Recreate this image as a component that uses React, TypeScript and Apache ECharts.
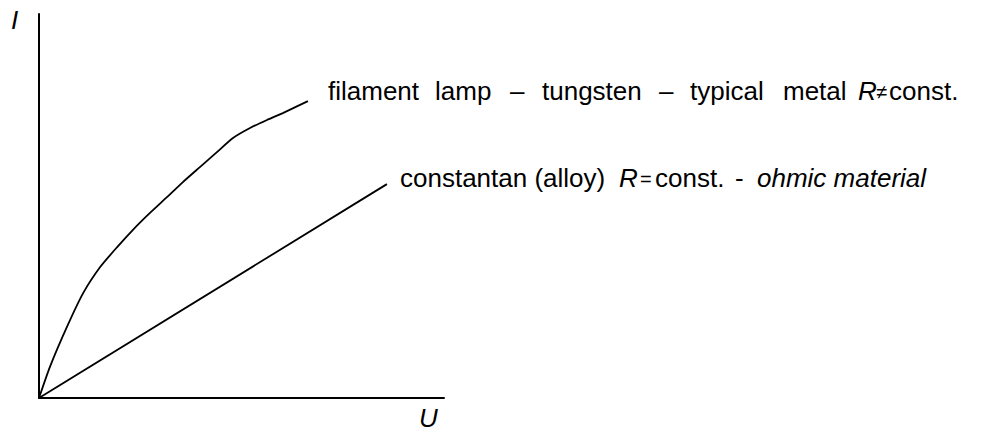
import React, { useEffect, useRef } from "react";
import * as echarts from "echarts";

// Voltage U (x) and current I (y), arbitrary units
const filamentU = [0, 0.27, 0.69, 1.09, 1.51, 1.93, 2.32, 2.74, 3.16, 3.56, 3.98, 4.4, 4.79, 5.21, 5.63, 6.02, 6.64];
const filamentI = [0, 0.81, 1.85, 2.73, 3.41, 3.93, 4.38, 4.82, 5.23, 5.63, 6.02, 6.41, 6.77, 7.03, 7.24, 7.42, 7.73];
const constantanU = [0, 8.59];
const constantanI = [0, 5.57];

const axisMax = 10;
const xName = "U";
const yName = "I";

const FONT = "'Liberation Sans', Arial, sans-serif";

export default function App() {
  const ref = useRef<HTMLDivElement>(null);

  useEffect(() => {
    if (!ref.current) return;
    const chart = echarts.init(ref.current, undefined, { renderer: "svg" });

    const txt = (
      text: string,
      x: number,
      y: number,
      opts: { italic?: boolean; size?: number } = {}
    ) => ({
      type: "text",
      x,
      y,
      silent: true,
      style: {
        text,
        fill: "#000",
        font: `${opts.italic ? "italic " : ""}${opts.size ?? 26}px ${FONT}`,
        lineHeight: 20,
        textAlign: "left",
        textVerticalAlign: "middle",
        verticalAlign: "middle",
      },
    });

    const l1 = 91;
    const l2 = 178;

    chart.setOption({
      animation: false,
      backgroundColor: "#fff",
      grid: { left: 39, top: 14, width: 405, height: 384, containLabel: false },
      xAxis: {
        type: "value",
        min: 0,
        max: axisMax,
        axisLine: { show: true, lineStyle: { color: "#000", width: 2 } },
        axisTick: { show: false },
        axisLabel: { show: false },
        splitLine: { show: false },
      },
      yAxis: {
        type: "value",
        min: 0,
        max: axisMax,
        axisLine: { show: true, lineStyle: { color: "#000", width: 2 } },
        axisTick: { show: false },
        axisLabel: { show: false },
        splitLine: { show: false },
      },
      series: [
        {
          type: "line",
          name: "filament lamp",
          data: filamentU.map((u, i) => [u, filamentI[i]]),
          showSymbol: false,
          smooth: 0.2,
          silent: true,
          lineStyle: { color: "#000", width: 1.8 },
        },
        {
          type: "line",
          name: "constantan",
          data: constantanU.map((u, i) => [u, constantanI[i]]),
          showSymbol: false,
          silent: true,
          lineStyle: { color: "#000", width: 1.8 },
        },
      ],
      graphic: [
        txt(yName, 11, 20, { italic: true }),
        txt(xName, 419, 418, { italic: true }),
        txt("filament", 328, l1),
        txt("lamp", 435, l1),
        txt("–", 510, l1),
        txt("tungsten", 542, l1),
        txt("–", 659, l1),
        txt("typical", 690, l1),
        txt("metal", 783, l1),
        txt("R", 858, l1, { italic: true }),
        txt("≠", 876, l1 + 1, { size: 20 }),
        txt("const.", 889, l1),
        txt("constantan (alloy)", 400, l2),
        txt("R", 619, l2, { italic: true }),
        txt("=", 640, l2 + 1, { size: 20 }),
        txt("const.", 655, l2),
        txt("-", 735, l2),
        txt("ohmic material", 757, l2, { italic: true }),
      ],
    });

    return () => chart.dispose();
  }, []);

  return (
    <div
      ref={ref}
      style={{ position: "absolute", left: 0, top: 0, width: 989, height: 434 }}
    />
  );
}
